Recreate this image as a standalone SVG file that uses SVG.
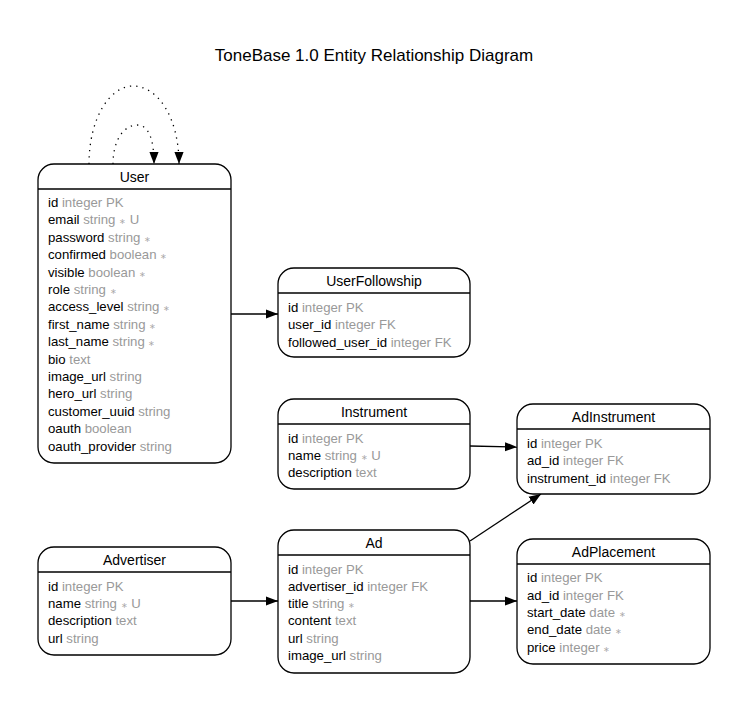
<svg xmlns="http://www.w3.org/2000/svg" width="749" height="712" viewBox="0 0 749 712">
<style>
text{font-family:"Liberation Sans",Arial,sans-serif;}
.title{font-size:17px;fill:#000;text-anchor:middle;}
.hdr{font-size:14px;fill:#000;text-anchor:middle;}
.f{font-size:13.2px;fill:#000;}
.t{fill:#999;}
.s{font-size:7.5px;fill:#aaa;}
.box{fill:#fff;stroke:#000;stroke-width:1.3;}
.sep{stroke:#000;stroke-width:1.3;}
.e{fill:none;stroke:#000;stroke-width:1.3;}
.d{fill:none;stroke:#000;stroke-width:1.3;stroke-dasharray:1.3,5;}
</style>
<defs>
<marker id="a" viewBox="0 0 10 10" refX="10" refY="5" markerWidth="12" markerHeight="12" markerUnits="userSpaceOnUse" orient="auto">
<path d="M0,1.2 L10,5 L0,8.8 Z" fill="#000"/>
</marker>
</defs>
<rect width="749" height="712" fill="#fff"/>
<text class="title" x="374" y="61">ToneBase 1.0 Entity Relationship Diagram</text>

<g id="connectors">
<path class="d" d="M89,164 C89,118 110,86 133,86 C158,86 179,118 179,164" marker-end="url(#a)"/>
<path class="d" d="M113,164 C113,140 124,125 137,125 C149,125 154,140 154,164" marker-end="url(#a)"/>
<path class="e" d="M231,314 L278,314" marker-end="url(#a)"/>
<path class="e" d="M470,446 L517,447" marker-end="url(#a)"/>
<path class="e" d="M470,541 L541,494" marker-end="url(#a)"/>
<path class="e" d="M231,601 L278,601" marker-end="url(#a)"/>
<path class="e" d="M470,601 L517,601" marker-end="url(#a)"/>
</g>

<g id="User">
<rect class="box" x="38" y="164" width="193" height="299" rx="16"/>
<line class="sep" x1="38" y1="189" x2="231" y2="189"/>
<text class="hdr" x="134.5" y="182">User</text>
<text class="f" x="48" y="207">id <tspan class="t">integer PK</tspan></text>
<text class="f" x="48" y="224">email <tspan class="t">string</tspan> <tspan class="s">∗</tspan> <tspan class="t">U</tspan></text>
<text class="f" x="48" y="242">password <tspan class="t">string</tspan> <tspan class="s">∗</tspan></text>
<text class="f" x="48" y="259">confirmed <tspan class="t">boolean</tspan> <tspan class="s">∗</tspan></text>
<text class="f" x="48" y="277">visible <tspan class="t">boolean</tspan> <tspan class="s">∗</tspan></text>
<text class="f" x="48" y="294">role <tspan class="t">string</tspan> <tspan class="s">∗</tspan></text>
<text class="f" x="48" y="311">access_level <tspan class="t">string</tspan> <tspan class="s">∗</tspan></text>
<text class="f" x="48" y="329">first_name <tspan class="t">string</tspan> <tspan class="s">∗</tspan></text>
<text class="f" x="48" y="346">last_name <tspan class="t">string</tspan> <tspan class="s">∗</tspan></text>
<text class="f" x="48" y="364">bio <tspan class="t">text</tspan></text>
<text class="f" x="48" y="381">image_url <tspan class="t">string</tspan></text>
<text class="f" x="48" y="398">hero_url <tspan class="t">string</tspan></text>
<text class="f" x="48" y="416">customer_uuid <tspan class="t">string</tspan></text>
<text class="f" x="48" y="433">oauth <tspan class="t">boolean</tspan></text>
<text class="f" x="48" y="451">oauth_provider <tspan class="t">string</tspan></text>
</g>

<g id="UserFollowship">
<rect class="box" x="278" y="268" width="192" height="89" rx="16"/>
<line class="sep" x1="278" y1="293" x2="470" y2="293"/>
<text class="hdr" x="374" y="286">UserFollowship</text>
<text class="f" x="288" y="312">id <tspan class="t">integer PK</tspan></text>
<text class="f" x="288" y="329">user_id <tspan class="t">integer FK</tspan></text>
<text class="f" x="288" y="347">followed_user_id <tspan class="t">integer FK</tspan></text>
</g>

<g id="Instrument">
<rect class="box" x="278" y="399" width="192" height="90" rx="16"/>
<line class="sep" x1="278" y1="424" x2="470" y2="424"/>
<text class="hdr" x="374" y="417">Instrument</text>
<text class="f" x="288" y="443">id <tspan class="t">integer PK</tspan></text>
<text class="f" x="288" y="460">name <tspan class="t">string</tspan> <tspan class="s">∗</tspan> <tspan class="t">U</tspan></text>
<text class="f" x="288" y="477">description <tspan class="t">text</tspan></text>
</g>

<g id="AdInstrument">
<rect class="box" x="517" y="404" width="193" height="90" rx="16"/>
<line class="sep" x1="517" y1="429" x2="710" y2="429"/>
<text class="hdr" x="613.5" y="422">AdInstrument</text>
<text class="f" x="527" y="448">id <tspan class="t">integer PK</tspan></text>
<text class="f" x="527" y="465">ad_id <tspan class="t">integer FK</tspan></text>
<text class="f" x="527" y="483">instrument_id <tspan class="t">integer FK</tspan></text>
</g>

<g id="Advertiser">
<rect class="box" x="38" y="547" width="193" height="108" rx="16"/>
<line class="sep" x1="38" y1="572" x2="231" y2="572"/>
<text class="hdr" x="134.5" y="565">Advertiser</text>
<text class="f" x="48" y="591">id <tspan class="t">integer PK</tspan></text>
<text class="f" x="48" y="608">name <tspan class="t">string</tspan> <tspan class="s">∗</tspan> <tspan class="t">U</tspan></text>
<text class="f" x="48" y="625">description <tspan class="t">text</tspan></text>
<text class="f" x="48" y="643">url <tspan class="t">string</tspan></text>
</g>

<g id="Ad">
<rect class="box" x="278" y="530" width="192" height="143" rx="16"/>
<line class="sep" x1="278" y1="555" x2="470" y2="555"/>
<text class="hdr" x="374" y="548">Ad</text>
<text class="f" x="288" y="574">id <tspan class="t">integer PK</tspan></text>
<text class="f" x="288" y="591">advertiser_id <tspan class="t">integer FK</tspan></text>
<text class="f" x="288" y="608">title <tspan class="t">string</tspan> <tspan class="s">∗</tspan></text>
<text class="f" x="288" y="625">content <tspan class="t">text</tspan></text>
<text class="f" x="288" y="643">url <tspan class="t">string</tspan></text>
<text class="f" x="288" y="660">image_url <tspan class="t">string</tspan></text>
</g>

<g id="AdPlacement">
<rect class="box" x="517" y="539" width="193" height="125" rx="16"/>
<line class="sep" x1="517" y1="564" x2="710" y2="564"/>
<text class="hdr" x="613.5" y="557">AdPlacement</text>
<text class="f" x="527" y="582">id <tspan class="t">integer PK</tspan></text>
<text class="f" x="527" y="600">ad_id <tspan class="t">integer FK</tspan></text>
<text class="f" x="527" y="617">start_date <tspan class="t">date</tspan> <tspan class="s">∗</tspan></text>
<text class="f" x="527" y="634">end_date <tspan class="t">date</tspan> <tspan class="s">∗</tspan></text>
<text class="f" x="527" y="652">price <tspan class="t">integer</tspan> <tspan class="s">∗</tspan></text>
</g>
</svg>
